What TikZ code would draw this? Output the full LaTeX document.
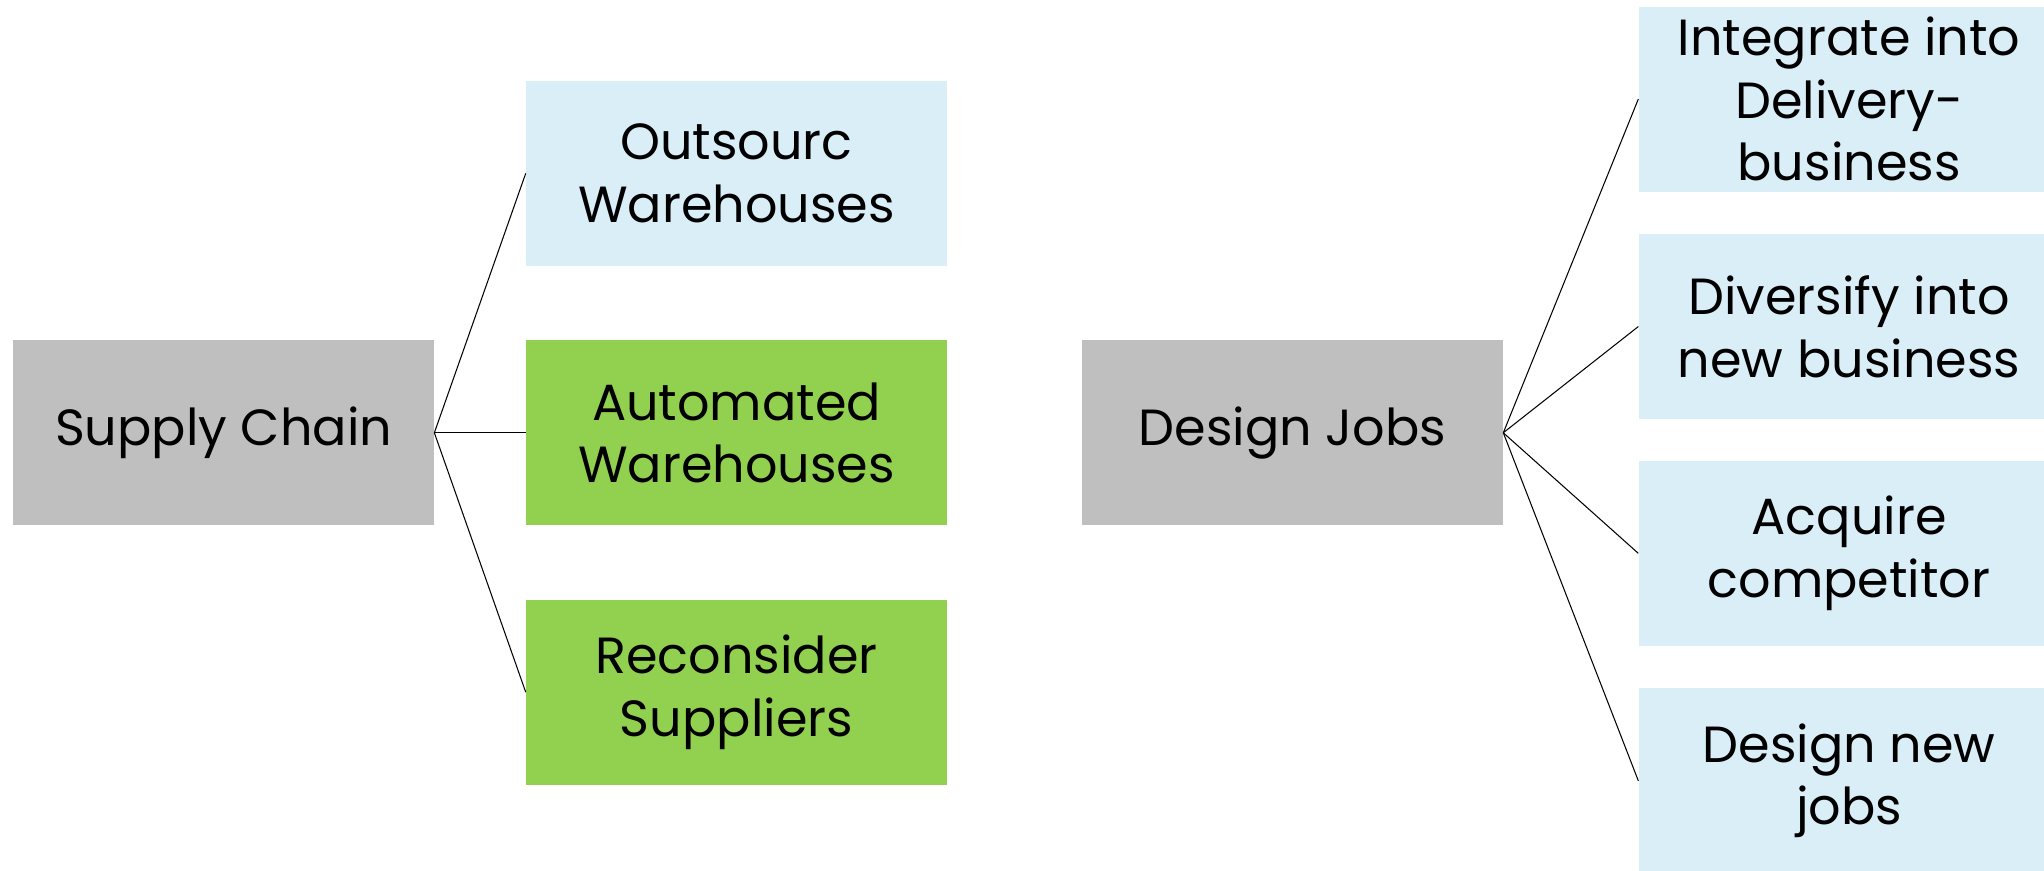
\documentclass[tikz,border=0pt]{standalone}
\usepackage{fontspec}
\setmainfont{Poppins}
\definecolor{lb}{RGB}{218,238,248}
\definecolor{gn}{RGB}{146,208,80}
\definecolor{gy}{RGB}{191,191,191}

\begin{document}
\begin{tikzpicture}[x=1pt, y=1pt,
        box/.style={rectangle, inner sep=0pt, minimum width=323pt, minimum height=142pt, align=center, font=\fontsize{39}{48}\selectfont},
        link/.style={line width=0.8pt}]
        \useasboundingbox (0,0) rectangle (1568,668);
        \node[box, fill=gy] (sc) at (171.5,336) {Supply Chain};
        \node[box, fill=lb] (ow) at (565,535) {Outsourc\\Warehouses};
        \node[box, fill=gn] (aw) at (565,336) {Automated\\Warehouses};
        \node[box, fill=gn] (rs) at (565,137) {Reconsider\\Suppliers};
        \node[box, fill=gy] (dj) at (991.5,336) {Design Jobs};
        \node[box, fill=lb] (id) at (1418.5,592) {Integrate into\\Delivery-\\business};
        \node[box, fill=lb] (dn) at (1418.5,417.5) {Diversify into\\new business};
        \node[box, fill=lb] (ac) at (1418.5,243.5) {Acquire\\competitor};
        \node[box, fill=lb] (nj) at (1418.5,69) {Design new\\jobs};
        \draw[link] (sc.east) -- (ow.west);
        \draw[link] (sc.east) -- (aw.west);
        \draw[link] (sc.east) -- (rs.west);
        \draw[link] (dj.east) -- (id.west);
        \draw[link] (dj.east) -- (dn.west);
        \draw[link] (dj.east) -- (ac.west);
        \draw[link] (dj.east) -- (nj.west);
    \end{tikzpicture}
\end{document}
